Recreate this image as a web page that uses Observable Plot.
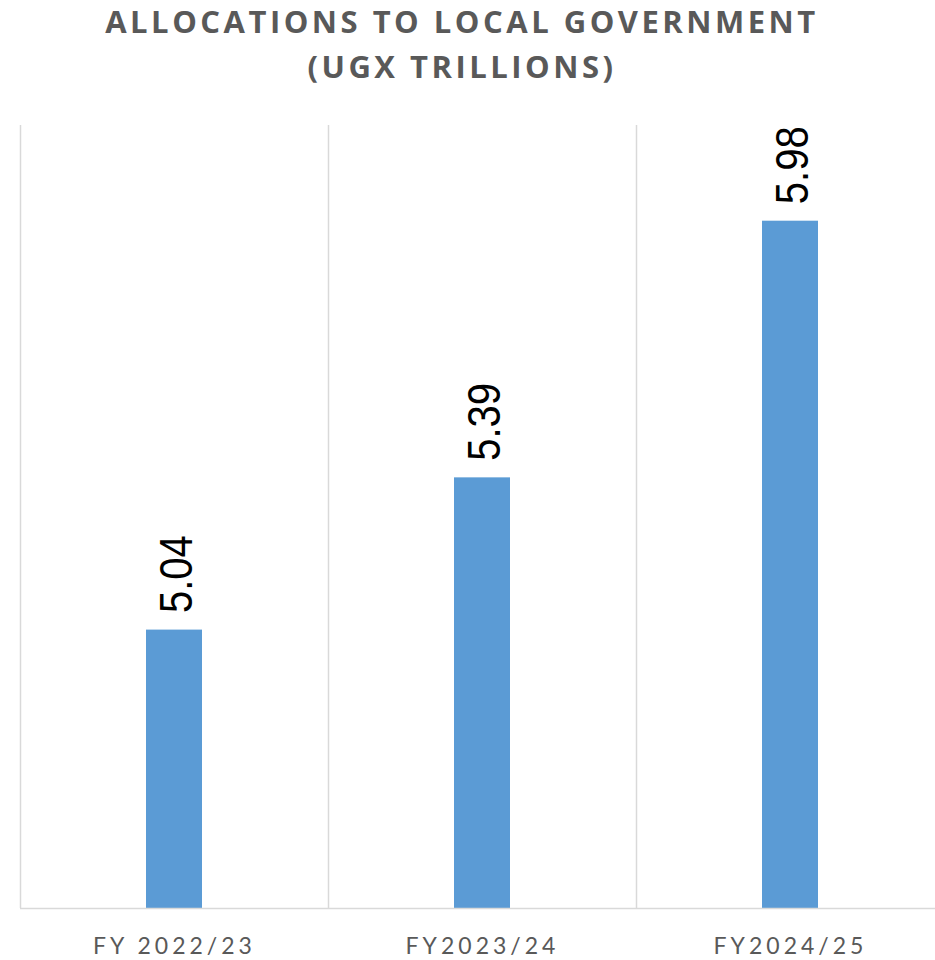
<!DOCTYPE html>
<html><head><meta charset="utf-8">
<script src="https://cdn.jsdelivr.net/npm/d3@7"></script>
<script src="https://cdn.jsdelivr.net/npm/@observablehq/plot@0.6"></script>
<style>
body{margin:0;background:#fff;overflow:hidden}
#title{position:relative;top:-1px;width:924px;height:100px;text-align:center;font-family:"Open Sans",sans-serif;font-weight:700;font-size:31px;letter-spacing:3.5px;color:#595959;line-height:45px}
#chart g[aria-label="x-axis tick label"] text{letter-spacing:4px}
</style></head><body>
<div id="title">ALLOCATIONS TO LOCAL GOVERNMENT<br>(UGX TRILLIONS)</div>
<div id="chart"></div>
<script>
const categories = ["FY 2022/23", "FY2023/24", "FY2024/25"];
const values = [5.04, 5.39, 5.98];
const labels = ["5.04", "5.39", "5.98"];
const yDomain = [4.4, 6.2];

const data = categories.map((c, i) => ({cat: c, value: values[i], label: labels[i]}));

const W = 935, H = 860, mL = 20, mR = -9, mT = 25, mB = 52;
const step = (W - mR - mL) / categories.length;

const chart = Plot.plot({
  width: W, height: H,
  marginLeft: mL, marginRight: mR, marginTop: mT, marginBottom: mB,
  style: {fontFamily: "Lato, sans-serif", background: "#fff", overflow: "visible"},
  x: {domain: categories, paddingInner: 0.818, paddingOuter: 0.409, label: null},
  y: {domain: yDomain, axis: null},
  marks: [
    Plot.ruleX(categories, {x: d => d, dx: -step / 2, stroke: "#d9d9d9", strokeWidth: 1.5}),
    Plot.ruleX(categories.slice(-1), {x: d => d, dx: step / 2, stroke: "#d9d9d9", strokeWidth: 1.5}),
    Plot.barY(data, {x: "cat", y1: yDomain[0], y2: "value", fill: "#5B9BD5"}),
    Plot.ruleY([yDomain[0]], {stroke: "#d9d9d9", strokeWidth: 1.5}),
    Plot.axisX({tickSize: 0, tickPadding: 29, fontSize: 23, fill: "#595959", fontFamily: "Lato, sans-serif"}),
    Plot.text(data, {x: "cat", y: "value", text: "label", rotate: -90, textAnchor: "start", lineAnchor: "middle",
      dy: -17, dx: 3, fontSize: 46, fill: "#000", fontFamily: "Liberation Sans, Arial, sans-serif"})
  ]
});
document.getElementById("chart").appendChild(chart);
// compress value labels along their direction like the original
chart.querySelectorAll('g[aria-label="text"] text').forEach(t => {
  t.setAttribute("textLength", 78);
  t.setAttribute("lengthAdjust", "spacingAndGlyphs");
});
</script>
</body></html>
